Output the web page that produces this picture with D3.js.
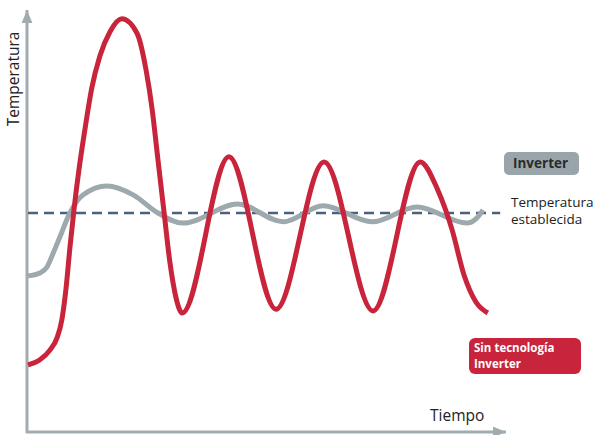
<!DOCTYPE html>
<html>
<head>
<meta charset="utf-8">
<script src="https://d3js.org/d3.v7.min.js"></script>
<style>
  body { margin: 0; background: #fff; }
  text { font-family: "Open Sans", Lato, sans-serif; }
</style>
</head>
<body>
<svg id="chart" width="596" height="435"></svg>
<script>
// time (0-100) vs temperature (0-100)
const redTime = [0, 2.5, 4.6, 6.1, 7.1, 8.0, 8.8, 9.7, 10.7, 12.0, 13.4, 15.1, 17.2, 19.7, 22.9, 24.8, 26.1, 27.3, 28.6, 29.8, 31.1, 32.4, 42.2, 52.1, 62.2, 72.5, 82.4, 86.1, 89.1, 91.6, 94.1, 96.6];
const redTemp = [15.9, 17.1, 19.4, 22.3, 26.5, 34.1, 43.6, 53.1, 62.1, 72.0, 81.5, 89.1, 94.8, 97.9, 94.5, 85.8, 76.3, 64.5, 51.9, 40.3, 31.8, 28.2, 65.2, 29.1, 64.0, 28.7, 64.0, 57.3, 47.9, 37.2, 30.8, 28.2];

const grayTime = [0, 2.5, 4.0, 5.3, 6.7, 8.8, 11.6, 16.6, 22.1, 27.3, 32.6, 44.1, 53.6, 62.0, 72.3, 81.7, 92.2, 94.1, 95.6];
const grayTemp = [37.0, 37.7, 39.1, 42.4, 46.2, 51.9, 56.2, 58.3, 56.2, 51.9, 49.5, 54.0, 49.8, 53.6, 49.8, 53.3, 49.5, 50.5, 52.6];

const setpoint = 51.9;
const setpointEnd = 99.2;

const svg = d3.select('#chart');

let x = d3.scaleLinear().domain([0, 100]).range([28, 504]);
let y = d3.scaleLinear().domain([0, 100]).range([432, 10]);

let axisColor = '#a2acb0';

// arrow heads
let defs = svg.append('defs');
defs.append('marker')
    .attr('id', 'arrow')
    .attr('viewBox', '0 0 12 10')
    .attr('refX', 12)
    .attr('refY', 5)
    .attr('markerUnits', 'userSpaceOnUse')
    .attr('markerWidth', 13)
    .attr('markerHeight', 11)
    .attr('orient', 'auto')
    .append('path')
    .attr('d', 'M0,0 L12,5 L0,10 Z')
    .attr('fill', axisColor);

// axes
svg.append('line')
    .attr('x1', 27).attr('y1', 433)
    .attr('x2', 27).attr('y2', 10)
    .attr('stroke', axisColor).attr('stroke-width', 3)
    .attr('marker-end', 'url(#arrow)');

svg.append('line')
    .attr('x1', 26).attr('y1', 432)
    .attr('x2', 506).attr('y2', 432)
    .attr('stroke', axisColor).attr('stroke-width', 3)
    .attr('marker-end', 'url(#arrow)');

// setpoint dashed line
svg.append('line')
    .attr('x1', x(0)).attr('y1', y(setpoint))
    .attr('x2', x(setpointEnd)).attr('y2', y(setpoint))
    .attr('stroke', '#4b5f7e').attr('stroke-width', 2.5)
    .attr('stroke-dasharray', '10,6');

let line = d3.line()
    .x(d => x(d[0]))
    .y(d => y(d[1]))
    .curve(d3.curveMonotoneX);

let grayData = grayTime.map((t, i) => [t, grayTemp[i]]);
let redData = redTime.map((t, i) => [t, redTemp[i]]);

svg.append('path')
    .datum(grayData)
    .attr('d', line)
    .attr('fill', 'none')
    .attr('stroke', '#9ea9ad')
    .attr('stroke-width', 5);

svg.append('path')
    .datum(redData)
    .attr('d', line)
    .attr('fill', 'none')
    .attr('stroke', '#c8243b')
    .attr('stroke-width', 5);

// axis titles
svg.append('text')
    .attr('transform', 'translate(19,79) rotate(-90)')
    .attr('text-anchor', 'middle')
    .attr('font-size', 15.5)
    .attr('fill', '#222')
    .text('Temperatura');

svg.append('text')
    .attr('x', 430).attr('y', 421)
    .attr('font-size', 15.5)
    .attr('fill', '#222')
    .text('Tiempo');

// legend: inverter
svg.append('rect')
    .attr('x', 504).attr('y', 152)
    .attr('width', 75).attr('height', 23)
    .attr('rx', 5)
    .attr('fill', '#9aa5aa');
svg.append('text')
    .attr('x', 513).attr('y', 168)
    .attr('font-size', 13.5).attr('font-weight', 'bold')
    .attr('fill', '#2a2a2a')
    .text('Inverter');

// setpoint label
let sp = svg.append('text')
    .attr('font-size', 13.5)
    .attr('fill', '#222');
sp.append('tspan').attr('x', 511).attr('y', 207).text('Temperatura');
sp.append('tspan').attr('x', 511).attr('y', 224).text('establecida');

// legend: no inverter
svg.append('rect')
    .attr('x', 469).attr('y', 338)
    .attr('width', 112).attr('height', 36)
    .attr('rx', 6)
    .attr('fill', '#c8243b');
let nt = svg.append('text')
    .attr('font-size', 11.5).attr('font-weight', 'bold')
    .attr('fill', '#fff');
nt.append('tspan').attr('x', 474).attr('y', 352).text('Sin tecnología');
nt.append('tspan').attr('x', 474).attr('y', 368).text('Inverter');
</script>
</body>
</html>
